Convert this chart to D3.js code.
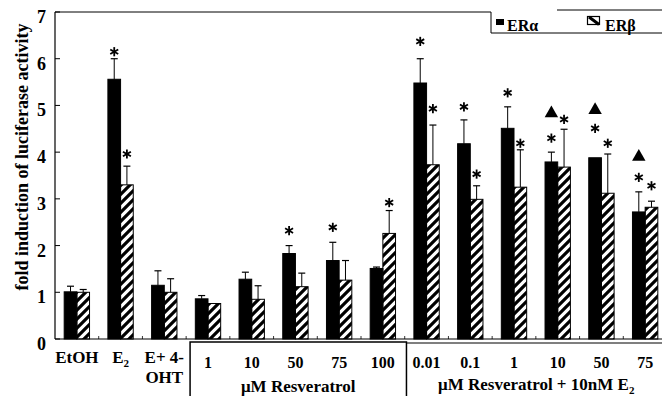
<!DOCTYPE html>
<html>
<head>
<meta charset="utf-8">
<script src="https://cdn.jsdelivr.net/npm/d3@7"></script>
<style>
  body { margin: 0; background: #fff; }
  svg text { font-family: "Liberation Serif", "Times New Roman", serif; font-weight: bold; fill: #000; }
</style>
</head>
<body>
<div id="chart"></div>
<script>
// treatments, left to right
const groups = ['EtOH', 'E_2', 'E+ 4-|OHT', '1', '10', '50', '75', '100', '0.01', '0.1', '1', '10', '50', '75']
// fold induction (mean) and +SD
const erAlpha = [1.01, 5.56, 1.15, 0.86, 1.28, 1.83, 1.68, 1.51, 5.48, 4.18, 4.51, 3.79, 3.88, 2.72]
const erAlphaErr = [0.12, 0.44, 0.31, 0.07, 0.15, 0.17, 0.39, 0.03, 0.52, 0.51, 0.46, 0.21, 0, 0.43]
const erBeta = [1.0, 3.30, 1.0, 0.76, 0.85, 1.12, 1.26, 2.26, 3.73, 2.99, 3.25, 3.68, 3.12, 2.82]
const erBetaErr = [0.06, 0.40, 0.29, 0, 0.29, 0.29, 0.42, 0.49, 0.85, 0.29, 0.80, 0.81, 0.84, 0.13]
// significance marks, at the level (fold) where they sit
const starAlpha = [null, 6.15, null, null, null, 2.32, 2.39, null, 6.37, 4.97, 5.27, 4.30, 4.51, 3.46]
const starBeta = [null, 3.96, null, null, null, null, null, 2.92, 4.93, 3.53, 4.19, 4.70, 4.19, 3.28]
const triAlpha = [null, null, null, null, null, null, null, null, null, null, null, 4.83, 4.90, 3.90]
const yTicks = [0, 1, 2, 3, 4, 5, 6, 7]
const yTitle = 'fold induction of luciferase activity'
const seriesNames = ['ERα', 'ERβ']
const resvGroups = [3, 4, 5, 6, 7]
const resvE2Groups = [8, 9, 10, 11, 12, 13]

var width = 662
var height = 396

let svg = d3.select('#chart').append('svg')
  .attr('width', width)
  .attr('height', height)

svg.append('defs').append('pattern')
  .attr('id', 'hatch')
  .attr('patternUnits', 'userSpaceOnUse')
  .attr('width', 9)
  .attr('height', 9)
  .append('path')
  .attr('d', 'M-1,10 L10,-1 M-3,3 L3,-3 M6,12 L12,6')
  .style('stroke', '#000')
  .style('stroke-width', 3.2)

var x = d3.scaleBand()
  .domain(d3.range(groups.length))
  .range([55, 667])
  .paddingInner(0.42)
  .paddingOuter(0.21)
var half = x.bandwidth() / 2
var y = d3.scaleLinear().domain([0, 7]).range([339, 12])

// axes frame
svg.append('line').attr('x1', 55).attr('x2', 55).attr('y1', y(7)).attr('y2', y(0))
  .style('stroke', '#000').style('stroke-width', 1.2)
svg.append('line').attr('x1', 55).attr('x2', width).attr('y1', y(0)).attr('y2', y(0))
  .style('stroke', '#000').style('stroke-width', 1.2)
svg.append('line').attr('x1', 55).attr('x2', 491).attr('y1', y(7)).attr('y2', y(7))
  .style('stroke', '#000').style('stroke-width', 1)

// y ticks
yTicks.forEach(function (t) {
  svg.append('line').attr('x1', 55).attr('x2', 60).attr('y1', y(t)).attr('y2', y(t))
    .style('stroke', '#000')
  svg.append('text')
    .attr('x', 46)
    .attr('y', y(t) + 11)
    .attr('text-anchor', 'end')
    .attr('font-size', '18px')
    .text(t)
})

svg.append('text')
  .attr('transform', 'translate(28,157) rotate(-90)')
  .attr('text-anchor', 'middle')
  .attr('font-size', '18px')
  .text(yTitle)

// small marks between groups
d3.range(1, groups.length).forEach(function (i) {
  let bx = x(i) - x.step() * x.paddingOuter()
  svg.append('line').attr('x1', bx).attr('x2', bx).attr('y1', y(0)).attr('y2', y(0) - 3)
    .style('stroke', '#000').style('stroke-width', 0.8)
})

function drawBars (values, errs, offset, fill) {
  svg.selectAll(null)
    .data(values)
    .enter().append('rect')
    .attr('x', (d, i) => x(i) + offset)
    .attr('y', d => y(d))
    .attr('width', half)
    .attr('height', d => y(0) - y(d))
    .style('fill', fill)
    .style('stroke', '#000')
    .style('stroke-width', 1)
  values.forEach(function (v, i) {
    if (!errs[i]) return
    let cx = x(i) + offset + half / 2
    svg.append('line').attr('x1', cx).attr('x2', cx).attr('y1', y(v)).attr('y2', y(v + errs[i]))
      .style('stroke', '#000').style('stroke-width', 1)
    svg.append('line').attr('x1', cx - 3.5).attr('x2', cx + 3.5)
      .attr('y1', y(v + errs[i])).attr('y2', y(v + errs[i]))
      .style('stroke', '#000').style('stroke-width', 1.2)
  })
}
drawBars(erAlpha, erAlphaErr, 0, '#000')
drawBars(erBeta, erBetaErr, half, 'url(#hatch)')

function star (cx, cy) {
  let r = 4.6
  let g = svg.append('g').attr('transform', `translate(${cx},${cy})`)
  ;[90, 30, 150].forEach(function (a) {
    let rad = a * Math.PI / 180
    g.append('line')
      .attr('x1', -r * Math.cos(rad)).attr('y1', -r * Math.sin(rad))
      .attr('x2', r * Math.cos(rad)).attr('y2', r * Math.sin(rad))
      .style('stroke', '#000').style('stroke-width', 1.8)
  })
}
starAlpha.forEach((s, i) => { if (s !== null) star(x(i) + half / 2, y(s)) })
starBeta.forEach((s, i) => { if (s !== null) star(x(i) + half * 1.5, y(s)) })
triAlpha.forEach(function (s, i) {
  if (s === null) return
  svg.append('path')
    .attr('d', d3.symbol().type(d3.symbolTriangle).size(78)())
    .attr('transform', `translate(${x(i) + half / 2},${y(s)})`)
    .style('fill', '#000')
})

// x labels
function labelText (sel, str, subSize) {
  let parts = str.split('_')
  sel.text(parts[0])
  if (parts.length > 1) {
    sel.append('tspan').attr('font-size', subSize).attr('dy', 4).text(parts[1])
  }
}
groups.slice(0, 3).forEach(function (g, i) {
  g.split('|').forEach(function (line, k) {
    let t = svg.append('text')
      .attr('x', x(i) + half)
      .attr('y', 363 + k * 20)
      .attr('text-anchor', 'middle')
      .attr('font-size', '17px')
    labelText(t, line, '11px')
  })
})
resvGroups.concat(resvE2Groups).forEach(function (i) {
  svg.append('text')
    .attr('x', x(i) + half)
    .attr('y', 368)
    .attr('text-anchor', 'middle')
    .attr('font-size', '16px')
    .text(groups[i])
})

// brackets under the dose groups
var boxLeft = x(3) - x.step() * 0.12
var boxMid = x(8) - x.step() * 0.17
svg.append('path')
  .attr('d', `M${boxLeft},${height} V${y(0) + 3} H${boxMid} V${height}`)
  .style('fill', 'none').style('stroke', '#000').style('stroke-width', 1.5)
svg.append('path')
  .attr('d', `M${boxMid},${y(0) + 4} H${width}`)
  .style('fill', 'none').style('stroke', '#000').style('stroke-width', 1.2)
svg.append('text')
  .attr('x', (boxLeft + boxMid) / 2)
  .attr('y', 392)
  .attr('text-anchor', 'middle')
  .attr('font-size', '17px')
  .text('μM Resveratrol')
let sub = svg.append('text')
  .attr('x', (boxMid + width) / 2 + 2)
  .attr('y', 390)
  .attr('text-anchor', 'middle')
  .attr('font-size', '17px')
labelText(sub, 'μM Resveratrol + 10nM E_2', '11px')

// legend
svg.append('path')
  .attr('d', 'M491,12 V33 H662 M557,10 H662')
  .style('fill', 'none').style('stroke', '#000').style('stroke-width', 1)
svg.append('rect').attr('x', 496).attr('y', 19).attr('width', 8).attr('height', 6).style('fill', '#000')
svg.append('text').attr('x', 507).attr('y', 31).attr('font-size', '16px').text(seriesNames[0])
svg.append('rect').attr('x', 587.5).attr('y', 16.5).attr('width', 12).attr('height', 8)
  .style('fill', '#fff').style('stroke', '#000').style('stroke-width', 1.2)
svg.append('line').attr('x1', 589).attr('y1', 17).attr('x2', 599).attr('y2', 24.5)
  .style('stroke', '#000').style('stroke-width', 3)
svg.append('text').attr('x', 605).attr('y', 31).attr('font-size', '16px').text(seriesNames[1])
</script>
</body>
</html>
